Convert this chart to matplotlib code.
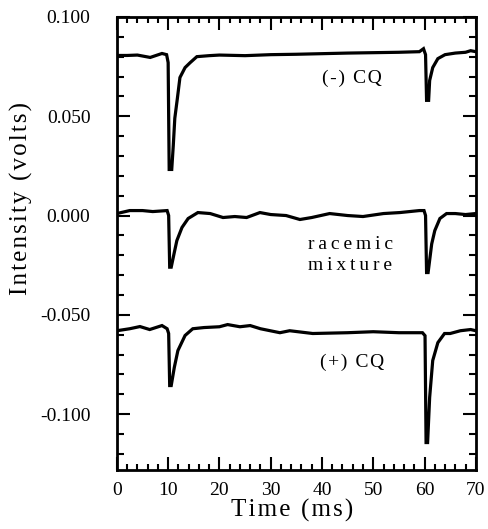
import numpy as np
import matplotlib
matplotlib.use('Agg')
import matplotlib.pyplot as plt
from matplotlib.ticker import MultipleLocator, FormatStrFormatter

# (-) CQ trace
t_minus = [0, 2, 4, 6.5, 8.8, 9.7, 10.0, 10.2, 10.7, 11.0, 11.3, 11.8, 12.3, 13.3, 14.3, 15.6,
           18, 20, 25, 30, 35, 40, 45, 50, 55, 59, 59.8, 60.2, 60.4, 60.8, 61.0, 61.6, 62.6,
           64, 66, 68, 69, 70]
v_minus = [0.0806, 0.0806, 0.0808, 0.0796, 0.0816, 0.081, 0.077, 0.0232, 0.0232, 0.0352, 0.049,
           0.059, 0.0695, 0.0745, 0.077, 0.080, 0.0805, 0.0808, 0.0805, 0.081, 0.0812, 0.0815,
           0.0818, 0.082, 0.0822, 0.0825, 0.084, 0.081, 0.058, 0.058, 0.068, 0.0745, 0.079,
           0.081, 0.0818, 0.0822, 0.083, 0.0825]

# racemic mixture trace
t_rac = [0, 2.5, 5, 7, 9.8, 10.1, 10.3, 10.6, 11.2, 11.7, 12.7, 13.9, 15.8, 18.2, 20.7, 23,
         25.3, 27.9, 30, 33, 35.7, 38, 41.5, 45, 48, 52, 55.2, 59, 59.9, 60.2, 60.4, 60.7,
         61.4, 62, 63, 64.3, 66, 68, 70]
v_rac = [0.001, 0.0025, 0.0025, 0.002, 0.0025, 0.0, -0.026, -0.026, -0.0186, -0.0126, -0.006,
         -0.0015, 0.0015, 0.001, -0.001, -0.0005, -0.001, 0.0015, 0.0005, 0.0, -0.002, -0.001,
         0.001, 0.0, -0.0005, 0.001, 0.0015, 0.0025, 0.0025, 0.0, -0.0287, -0.0287, -0.0143,
         -0.0076, -0.0015, 0.001, 0.001, 0.0005, 0.001]

# (+) CQ trace
t_plus = [0, 2.5, 4.5, 6.4, 8.8, 9.8, 10.1, 10.3, 10.6, 11.2, 11.9, 13.3, 14.8, 17, 20, 21.6,
          24, 26, 28, 31.8, 33.7, 38.2, 45, 50, 55, 59.6, 60.1, 60.3, 60.6, 61.0, 61.6, 62.6,
          63.9, 65, 67, 69, 70]
v_plus = [-0.058, -0.057, -0.0559, -0.0574, -0.0554, -0.057, -0.0594, -0.0856, -0.0856, -0.0765,
          -0.068, -0.0604, -0.057, -0.0564, -0.056, -0.0549, -0.056, -0.0554, -0.057, -0.059,
          -0.058, -0.0594, -0.059, -0.0585, -0.059, -0.059, -0.0605, -0.1143, -0.1143, -0.0916,
          -0.073, -0.064, -0.0594, -0.0594, -0.058, -0.0574, -0.058]

labels = ["(-) CQ", "racemic\nmixture", "(+) CQ"]
label_x = [45.8, 45.5, 45.8]
label_y = [0.069, -0.020, -0.074]

serif = ['Liberation Serif', 'DejaVu Serif']
plt.rcParams['font.family'] = serif


def spaced(s, sp='\u200a'):
    return '\n'.join(sp.join(line) for line in s.split('\n'))


fig = plt.figure(figsize=(4.89, 5.29), dpi=100)
ax = fig.add_axes([0.239, 0.112, 0.734, 0.856])

for t, v in [(t_minus, v_minus), (t_rac, v_rac), (t_plus, v_plus)]:
    ax.plot(t, v, color='black', lw=2.3, solid_joinstyle='miter')

ax.text(label_x[0], label_y[0], spaced(labels[0]), fontsize=14, ha='center', va='center')
ax.text(label_x[1], label_y[1], spaced(labels[1], '\u2009'), fontsize=14, ha='center',
        va='center', linespacing=1.3)
ax.text(label_x[2], label_y[2], spaced(labels[2]), fontsize=14, ha='center', va='center')

ax.set_xlim(0, 70)
ax.set_ylim(-0.128, 0.1)
ax.xaxis.set_major_locator(MultipleLocator(10))
ax.xaxis.set_minor_locator(MultipleLocator(2))
ax.yaxis.set_major_locator(MultipleLocator(0.05))
ax.yaxis.set_minor_locator(MultipleLocator(0.01))
ax.yaxis.set_major_formatter(FormatStrFormatter('%.3f'))

ax.tick_params(which='both', direction='in', top=True, right=True, width=1.5)
ax.tick_params(which='major', length=9.5, labelsize=14)
ax.tick_params(axis='x', which='minor', length=4)
ax.tick_params(axis='y', which='minor', length=5)
ax.tick_params(axis='y', which='major', pad=19)
ax.tick_params(axis='x', which='major', pad=9)
for s in ax.spines.values():
    s.set_linewidth(2)

ax.set_xlabel(spaced("Time (ms)"), fontsize=18)
ax.set_ylabel(spaced("Intensity (volts)"), fontsize=18)
ax.xaxis.set_label_coords(0.489, -0.064)
ax.yaxis.set_label_coords(-0.234, 0.60)

fig.savefig('out.png', dpi=100)
